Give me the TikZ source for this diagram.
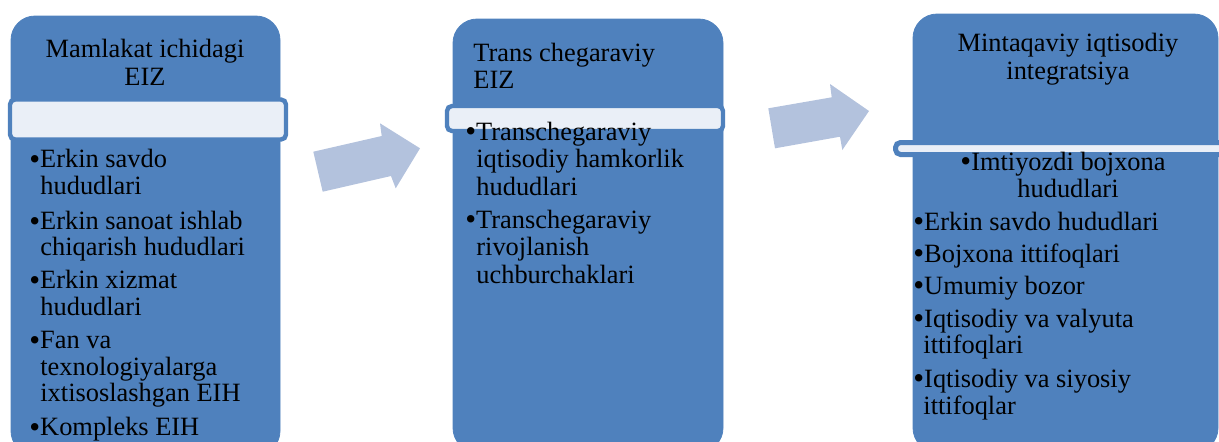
\documentclass[tikz,border=0pt]{standalone}
\usepackage{fontspec}
\setmainfont{Liberation Serif}
\definecolor{boxblue}{HTML}{4F81BD}
\definecolor{arrowblue}{HTML}{B3C2DD}
\definecolor{bandfill}{HTML}{EAEFF7}
\newcommand{\bul}{\makebox[5.4pt][l]{\raisebox{-0.9pt}{\fontsize{15.5}{13.5}\selectfont\textbullet}}}
\tikzset{
  box/.style={fill=boxblue, draw=boxblue, rounded corners=12pt},
  band/.style={fill=bandfill, draw=boxblue, line width=2.2pt, rounded corners=2.5pt},
  bigarrow/.style={fill=arrowblue},
  txt/.style={anchor=base west, inner sep=0pt, font=\fontsize{13.2}{13.5}\selectfont},
  ttl/.style={txt, anchor=base},
}
\begin{document}
\begin{tikzpicture}[x=0.5pt, y=-0.5pt]
  \useasboundingbox (0,0) rectangle (1219,441);
  \clip (0,0) rectangle (1219,441);
  % the three columns
  \draw[box] (11,16) rectangle (280,455);
  \draw[box] (453,19) rectangle (723,452);
  \draw[box] (913,14) rectangle (1218,452);
  \draw[band] (10,99.5) rectangle (286,139.5);
  \draw[band] (447,106) rectangle (723,131);
  \draw[band, line width=2.5pt] (895.5,142.5) rectangle (1235,154.5);
  % block arrows
  \fill[bigarrow] (313.3,151.7) -- (381.7,136) -- (380,123.3) -- (420,148.3)
    -- (395.7,188.3) -- (391,176) -- (322.7,191.7) -- cycle;
  \fill[bigarrow] (768.3,108.3) -- (831.7,97.3) -- (830,84) -- (869,111)
    -- (842.3,150) -- (840,136.7) -- (775,148.3) -- cycle;
  % titles
  \node[ttl] (t1a) at (145,57.3) {Mamlakat ichidagi};
  \node[ttl] (t1b) at (145,85) {EIZ};
  \node[txt] (t2a) at (473,61) {Trans chegaraviy};
  \node[txt] (t2b) at (473,88.3) {EIZ};
  \node[ttl] (t3a) at (1068,51.7) {Mintaqaviy iqtisodiy};
  \node[ttl] (t3b) at (1068,79.3) {integratsiya};
  % lists
  \foreach \x/\y/\t [count=\i] in {29/167.7/\bul Erkin savdo, 40/194.3/hududlari,
      29/229.3/\bul Erkin sanoat ishlab, 40/255.5/chiqarish hududlari,
      29/288.3/\bul Erkin xizmat, 40/315/hududlari,
      29/348.3/\bul Fan va, 40/375/texnologiyalarga, 40/401.7/ixtisoslashgan EIH,
      29/435.7/\bul Kompleks EIH}
    \node[txt] (a\i) at (\x,\y) {\t};
  \foreach \x/\y/\t [count=\i] in {465/140/\bul Transchegaraviy,
      476/167/iqtisodiy hamkorlik, 476/195/hududlari,
      465/228/\bul Transchegaraviy, 476/255/rivojlanish, 476/283/uchburchaklari}
    \node[txt] (b\i) at (\x,\y) {\t};
  \node[ttl] (c0a) at (1063,170) {\bul Imtiyozdi bojxona};
  \node[ttl] (c0b) at (1068,197) {hududlari};
  \foreach \x/\y/\t [count=\i] in {913/230/\bul Erkin savdo hududlari,
      913/262/\bul Bojxona ittifoqlari, 913/294/\bul Umumiy bozor,
      913/327/\bul Iqtisodiy va valyuta, 923/353/ittifoqlari,
      913/387/\bul Iqtisodiy va siyosiy, 923/414/ittifoqlar}
    \node[txt] (c\i) at (\x,\y) {\t};
\end{tikzpicture}
\end{document}
